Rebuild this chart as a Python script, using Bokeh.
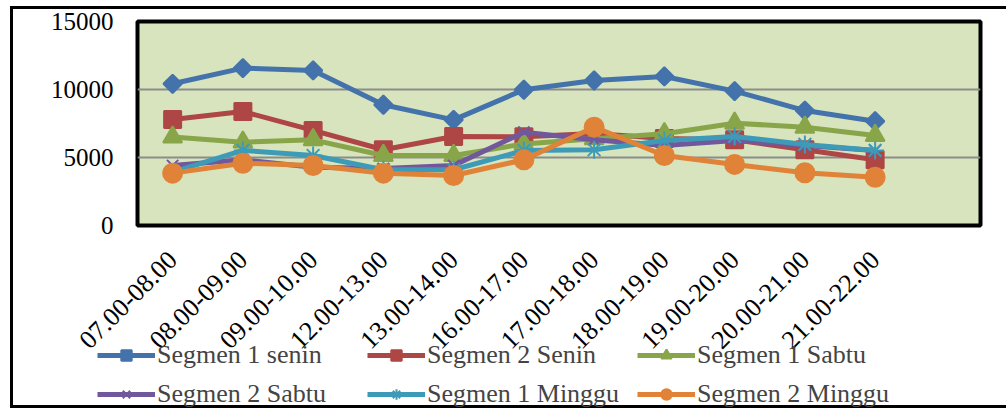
from math import pi
from bokeh.plotting import figure
from bokeh.layouts import column
from bokeh.models import FixedTicker, Legend, LegendItem, Range1d
from bokeh.embed import file_html
from bokeh.resources import INLINE

categories = ["07.00-08.00", "08.00-09.00", "09.00-10.00", "12.00-13.00", "13.00-14.00",
              "16.00-17.00", "17.00-18.00", "18.00-19.00", "19.00-20.00", "20.00-21.00",
              "21.00-22.00"]
seg1_senin = [10420, 11570, 11400, 8880, 7770, 9980, 10660, 10960, 9880, 8450, 7670]
seg2_senin = [7790, 8380, 6990, 5570, 6550, 6520, 6760, 6400, 6300, 5570, 4830]
seg1_sabtu = [6500, 6130, 6300, 5150, 5150, 6000, 6380, 6740, 7520, 7230, 6620]
seg2_sabtu = [4410, 4830, 4290, 4190, 4410, 6860, 6300, 5880, 6250, 5880, 5510]
seg1_minggu = [3920, 5520, 5150, 4100, 4100, 5520, 5570, 6250, 6550, 5960, 5520]
seg2_minggu = [3850, 4580, 4410, 3850, 3680, 4830, 7230, 5150, 4490, 3880, 3550]
y_ticks = [0, 5000, 10000, 15000]

series = [
    ("Segmen 1 senin", seg1_senin, "#4472AB", "square", 13, pi / 4),
    ("Segmen 2 Senin", seg2_senin, "#AD4644", "square", 17, 0),
    ("Segmen 1 Sabtu", seg1_sabtu, "#89A54A", "triangle", 19, 0),
    ("Segmen 2 Sabtu", seg2_sabtu, "#71589C", "x", 16, 0),
    ("Segmen 1 Minggu", seg1_minggu, "#3D9BB8", "asterisk", 18, 0),
    ("Segmen 2 Minggu", seg2_minggu, "#E08338", "circle", 19, 0),
]

FONT = "Liberation Serif"
W = 1000
p = figure(width=W, height=350, output_backend="svg", toolbar_location=None,
           x_range=Range1d(-0.5, len(categories) + 0.5), y_range=Range1d(0, 15000),
           min_border_left=124, min_border_top=12, min_border_right=33, min_border_bottom=129)
p.background_fill_color = "#D7E4BD"
p.border_fill_color = "white"
p.outline_line_color = "black"
p.outline_line_width = 4

p.xgrid.visible = False
p.ygrid.ticker = FixedTicker(ticks=[5000, 10000])
p.ygrid.grid_line_color = "#8C8C8C"
p.ygrid.grid_line_width = 2

xs = list(range(len(categories)))
p.xaxis.ticker = FixedTicker(ticks=xs)
p.xaxis.major_label_overrides = {i: c for i, c in enumerate(categories)}
p.xaxis.major_label_orientation = pi / 4
p.yaxis.ticker = FixedTicker(ticks=y_ticks)
for ax in (p.xaxis[0], p.yaxis[0]):
    ax.axis_line_color = None
    ax.major_tick_line_color = None
    ax.minor_tick_line_color = None
    ax.major_label_text_font = FONT
    ax.major_label_text_color = "black"
p.xaxis.major_label_text_font_size = "26px"
p.yaxis.major_label_text_font_size = "25px"
p.xaxis.major_label_standoff = 24
p.yaxis.major_label_standoff = 18

# legend-only figure below the chart (transparent, slightly overlapping)
lg = figure(width=W, height=70, output_backend="svg", toolbar_location=None,
            x_range=Range1d(0, 1), y_range=Range1d(0, 1),
            x_axis_type=None, y_axis_type=None,
            min_border_left=0, min_border_right=0, min_border_top=0, min_border_bottom=0)
lg.outline_line_color = None
lg.background_fill_alpha = 0
lg.border_fill_alpha = 0
lg.styles = {"margin-top": "-20px", "margin-bottom": "-4px", "margin-left": "-40px",
             "position": "relative"}

items = []
for name, vals, color, marker, size, ang in series:
    p.line(xs, vals, line_color=color, line_width=5)
    p.scatter(xs, vals, marker=marker, size=size, angle=ang,
              fill_color=color, line_color=color, line_width=2)
    # off-range copies, only to supply the legend swatches
    r1 = lg.line([-5, -4], [-5, -5], line_color=color, line_width=5)
    r2 = lg.scatter([-5], [-5], marker=marker, size=size, angle=ang,
                    fill_color=color, line_color=color, line_width=2)
    items.append(LegendItem(label=name, renderers=[r1, r2]))

order = [0, 3, 1, 4, 2, 5]
legend = Legend(items=[items[i] for i in order], ncols=3, location=(0, 0),
                label_text_font=FONT, label_text_font_size="26px",
                glyph_width=58, glyph_height=26, label_height=26, label_standoff=2,
                label_width=201, spacing=9, padding=0, margin=0,
                border_line_color=None, background_fill_alpha=0)
lg.add_layout(legend)

layout = column(p, lg, spacing=0, margin=(6, 0, 0, 10),
                styles={"border": "3px solid black"})

open("out.html", "w").write(file_html(layout, INLINE))
